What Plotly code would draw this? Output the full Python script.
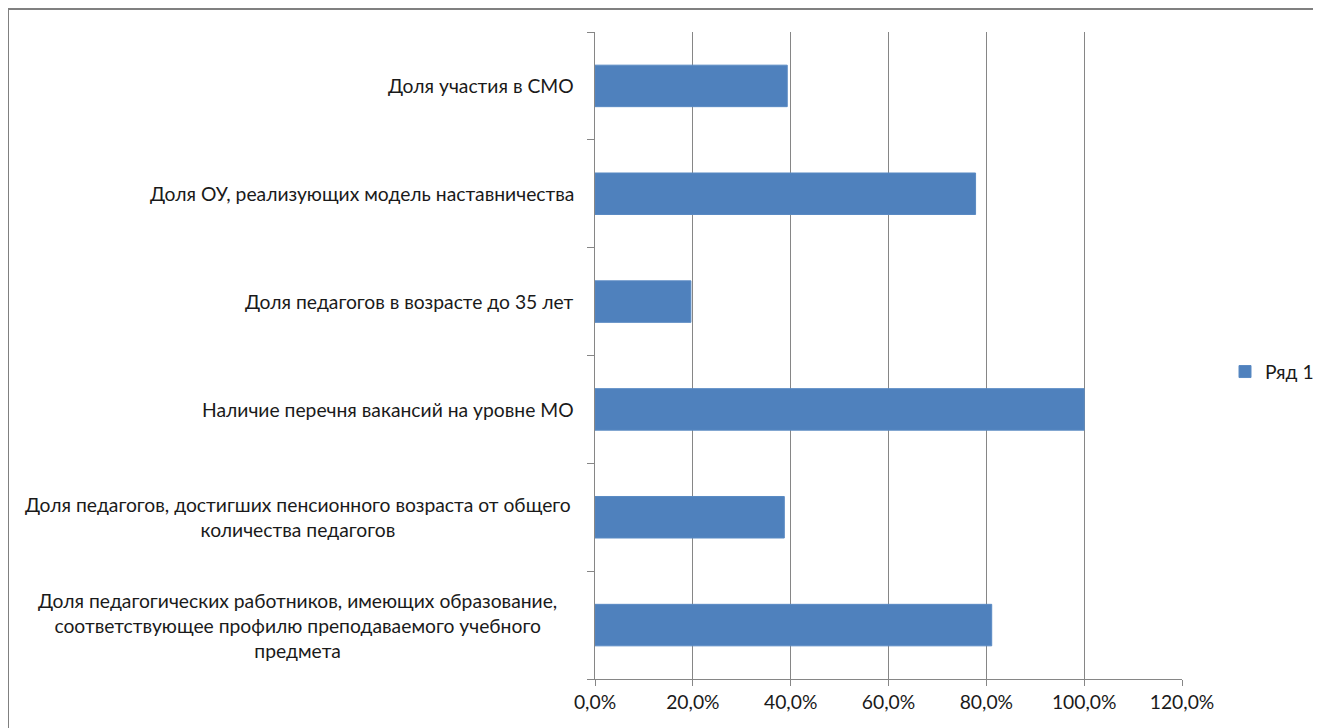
import plotly.graph_objects as go

categories = [
    "Доля участия в СМО",
    "Доля ОУ, реализующих модель наставничества",
    "Доля педагогов в возрасте до 35 лет",
    "Наличие перечня вакансий на уровне МО",
    "Доля педагогов, достигших пенсионного возраста от общего<br>количества педагогов",
    "Доля педагогических работников, имеющих образование,<br>соответствующее профилю преподаваемого учебного<br>предмета",
]
values = [0.393, 0.778, 0.196, 1.0, 0.387, 0.811]
series_name = "Ряд 1"
x_ticks = [0, 0.2, 0.4, 0.6, 0.8, 1.0, 1.2]

OFF = 8  # page body margin offset
W, H = 1321 - OFF, 728 - OFF
L, R, T, B = 595 - OFF, 1182 - OFF, 32 - OFF, 679 - OFF
FONT = "Lato"
FS = 19.3
TXT = "#1a1a1a"

def px_x(p):
    return (p - OFF - L) / (R - L)

def px_y(p):
    return (B - (p - OFF)) / (B - T)

fig = go.Figure()
fig.add_trace(go.Bar(
    y=list(range(len(categories))),
    x=values,
    orientation="h",
    name=series_name,
    marker=dict(color="#4F81BD", line=dict(color="#5A8AC3", width=1)),
    width=0.385,
    showlegend=True,
))

annotations = []
for i, c in enumerate(categories):
    multi = "<br>" in c
    annotations.append(dict(
        x=0, y=i, xref="x", yref="y", text=c, showarrow=False,
        xanchor="center" if multi else "right", yanchor="middle", align="center",
        xshift=-(595 - 297.5) if multi else -19,
        font=dict(family=FONT, size=FS, color=TXT),
    ))

fig.update_layout(
    width=W, height=H,
    margin=dict(l=L, r=W - R, t=T, b=H - B, pad=0, autoexpand=False),
    paper_bgcolor="#B3DAF9",
    plot_bgcolor="rgba(0,0,0,0)",
    separators=", ",
    font=dict(family=FONT, size=FS, color=TXT),
    xaxis=dict(
        range=[0, 1.2], tickvals=x_ticks, tickformat=".1%",
        showgrid=True, gridcolor="#868686", gridwidth=1,
        showline=True, linecolor="#868686", linewidth=1,
        ticks="outside", ticklen=6, tickcolor="#868686",
        zeroline=False, fixedrange=True,
        tickfont=dict(family=FONT, size=FS, color=TXT),
    ),
    yaxis=dict(
        range=[len(categories) - 0.5, -0.5],
        tickvals=[i + 0.5 for i in range(-1, len(categories))],
        showticklabels=False,
        showgrid=False,
        showline=True, linecolor="#868686", linewidth=1,
        ticks="outside", ticklen=7, tickcolor="#868686",
        zeroline=False,
    ),
    legend=dict(
        x=px_x(1225), y=px_y(372), xanchor="left", yanchor="middle",
        bgcolor="rgba(0,0,0,0)", font=dict(family=FONT, size=FS, color=TXT),
    ),
    annotations=annotations,
    shapes=[dict(
        type="rect", xref="paper", yref="paper", layer="below",
        x0=px_x(8), x1=px_x(1321 + 20), y0=px_y(9), y1=px_y(728 + 20),
        fillcolor="#FFFFFF", line=dict(color="#808080", width=2),
    )],
)

fig.write_html("out.html")
